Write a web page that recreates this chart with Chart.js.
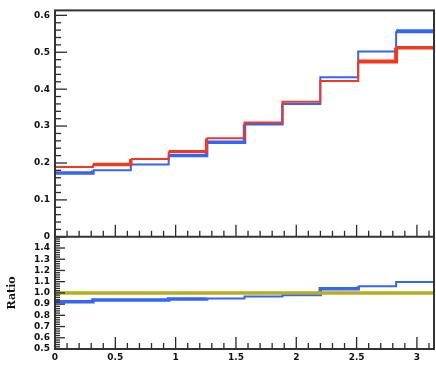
<!DOCTYPE html>
<html lang="en">
<head>
<meta charset="UTF-8">
<meta name="viewport" content="width=device-width, initial-scale=1.0">
<script src="https://cdn.jsdelivr.net/npm/chart.js"></script>
<title>Ratio</title>
<style>
    html, body { margin: 0; padding: 0; background: #fff; }
    .grafico_sty { width: 436px; height: 365px; }
</style>
</head>
<body>

<div class="grafico_sty">
    <canvas id="grafico_1" width="436" height="365"></canvas>
</div>

<script>
    // histogram: 10 bins from 0 to pi
    const binEdges = [0, 0.31416, 0.62832, 0.94248, 1.25664, 1.5708, 1.88496, 2.19911, 2.51327, 2.82743, 3.14159];
    const redValues = [0.189, 0.196, 0.211, 0.231, 0.267, 0.310, 0.366, 0.422, 0.475, 0.512];
    const blueValues = [0.173, 0.180, 0.196, 0.220, 0.256, 0.305, 0.360, 0.432, 0.502, 0.557];
    const ratioValues = [0.920, 0.937, 0.937, 0.946, 0.950, 0.968, 0.986, 1.036, 1.060, 1.098];
    const refValues = [1, 1];

    const xTicks = [0, 0.5, 1, 1.5, 2, 2.5, 3];
    const yTicks = [0, 0.1, 0.2, 0.3, 0.4, 0.5, 0.6];
    const ratioTicks = [0.5, 0.6, 0.7, 0.8, 0.9, 1.0, 1.1, 1.2, 1.3, 1.4];

    // line width per bin
    const redWidths = [2, 3.5, 2, 3, 2, 2, 2, 2, 4, 3.5];
    const blueWidths = [3.5, 2, 2, 3.5, 3.5, 2.5, 2, 2, 2, 4];
    const ratioWidths = [3.5, 3.5, 3.5, 3.5, 2, 2, 3.5, 3.5, 2, 2];

    const ROJO = '#f2391f';
    const AZUL = '#3565f5';

    function pasos(valores) {
        const pts = valores.map((v, i) => ({ x: binEdges[i], y: v }));
        pts.push({ x: binEdges[binEdges.length - 1], y: valores[valores.length - 1] });
        return pts;
    }

    function serie(valores, cor, larguras, eixo) {
        return {
            data: pasos(valores),
            yAxisID: eixo,
            borderColor: cor,
            borderWidth: 2,
            stepped: 'before',
            pointRadius: 0,
            fill: false,
            segment: { borderWidth: c => larguras[c.p0DataIndex] }
        };
    }

    function linhaRef(cor, largura) {
        const extremos = [binEdges[0], binEdges[binEdges.length - 1]];
        return {
            data: extremos.map((e, i) => ({ x: e, y: refValues[i] })),
            yAxisID: 'y2', borderColor: cor, borderWidth: largura, pointRadius: 0
        };
    }

    // ROOT style frame with inward ticks
    const molduraRoot = {
        id: 'molduraRoot',
        afterDatasetsDraw(chart) {
            const { ctx, chartArea: a, scales: { x, y, y2 } } = chart;
            const sep = y.getPixelForValue(0);
            ctx.save();
            ctx.strokeStyle = '#2a2a2a';
            ctx.lineWidth = 1.3;
            const linha = (x1, y1, x2, y2_) => { ctx.beginPath(); ctx.moveTo(x1, y1); ctx.lineTo(x2, y2_); ctx.stroke(); };

            // top panel y ticks
            for (let i = 0; i * 0.02 <= y.max + 1e-9; i++) {
                const py = y.getPixelForValue(i * 0.02);
                linha(a.left, py, a.left + (i % 5 === 0 ? 12 : 6), py);
            }
            // ratio y ticks
            for (let i = 0; 0.5 + i * 0.02 <= y2.max + 1e-9; i++) {
                const py = y2.getPixelForValue(0.5 + i * 0.02);
                linha(a.left, py, a.left + (i % 5 === 0 ? 10 : 5), py);
            }
            // x ticks on both panels
            for (let i = 0; i * 0.1 <= x.max; i++) {
                const px = x.getPixelForValue(i * 0.1);
                const len = i % 5 === 0 ? 12 : 6;
                linha(px, sep, px, sep - len);
                linha(px, a.bottom, px, a.bottom - len);
            }

            ctx.lineWidth = 2;
            ctx.strokeStyle = '#333';
            ctx.strokeRect(a.left, a.top, a.right - a.left, a.bottom - a.top);
            linha(a.left, sep, a.right, sep);
            ctx.restore();
        }
    };

    const ctx = document.getElementById('grafico_1');
    const fonteTick = { family: 'DejaVu Sans', size: 9, weight: 'bold' };

    const grafico_1 = new Chart(ctx, {
        type: 'line',
        data: {
            datasets: [
                serie(redValues, ROJO, redWidths, 'y'),
                serie(blueValues, AZUL, blueWidths, 'y'),
                linhaRef('#b4ae20', 3.5),
                linhaRef('#f6f400', 2.2),
                serie(ratioValues, AZUL, ratioWidths, 'y2')
            ]
        },
        options: {
            responsive: false,
            animation: false,
            layout: { padding: { top: 8, right: 2, left: 0, bottom: 0 } },
            plugins: { legend: { display: false }, tooltip: { enabled: false } },
            scales: {
                x: {
                    type: 'linear', position: 'bottom', min: 0, max: Math.PI,
                    grid: { display: false, drawTicks: false }, border: { display: false },
                    afterBuildTicks: s => { s.ticks = xTicks.map(v => ({ value: v })); },
                    afterFit: s => { s.height = 16; },
                    ticks: { color: '#111', font: fonteTick, padding: 3, maxRotation: 0, autoSkip: false, callback: v => String(v) }
                },
                y2: {
                    type: 'linear', position: 'left', stack: 'painel', stackWeight: 113,
                    min: 0.5, max: 1.5,
                    grid: { display: false, drawTicks: false }, border: { display: false },
                    afterBuildTicks: s => { s.ticks = ratioTicks.map(v => ({ value: v })); },
                    afterFit: s => { s.width = 55; },
                    title: { display: true, text: 'Ratio', color: '#111', font: { family: 'DejaVu Serif', size: 11, weight: 'bold' }, padding: { top: 6, bottom: 0 } },
                    ticks: { color: '#111', font: fonteTick, padding: 5, autoSkip: false, callback: v => v.toFixed(1) }
                },
                y: {
                    type: 'linear', position: 'left', stack: 'painel', stackWeight: 228,
                    min: 0, max: 0.6134,
                    grid: { display: false, drawTicks: false }, border: { display: false },
                    afterBuildTicks: s => { s.ticks = yTicks.map(v => ({ value: v })); },
                    afterFit: s => { s.width = 55; },
                    ticks: { color: '#111', font: fonteTick, padding: 5, autoSkip: false, callback: v => v === 0 ? '0' : v.toFixed(1) }
                }
            }
        },
        plugins: [molduraRoot]
    });
</script>

</body>
</html>
